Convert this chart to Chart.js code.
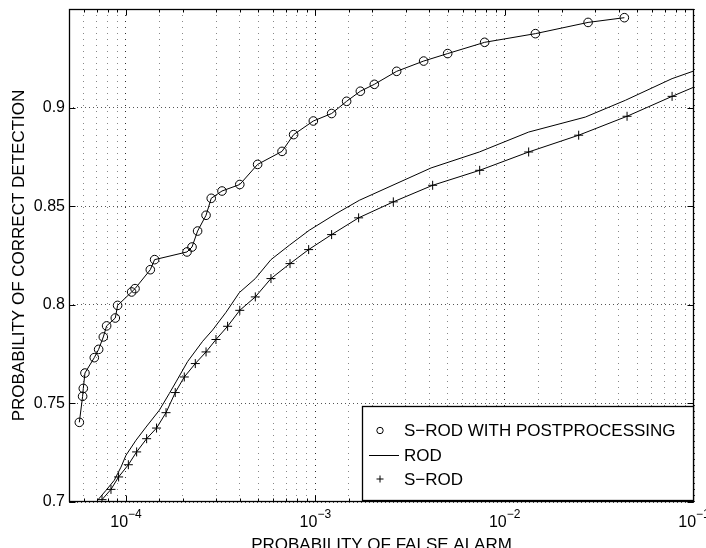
<!DOCTYPE html>
<html>
<head>
<meta charset="utf-8">
<script src="https://cdn.jsdelivr.net/npm/chart.js@4.4.1/dist/chart.umd.min.js"></script>
<style>
html, body { margin: 0; padding: 0; background: #fff; }
canvas { display: block; }
</style>
</head>
<body>
<canvas id="myChart" width="706" height="548"></canvas>
<script>
// values
var postX = [5.67e-5, 5.90e-5, 5.95e-5, 6.07e-5, 6.80e-5, 7.17e-5, 7.59e-5, 7.90e-5, 8.78e-5, 9.03e-5,
             1.071e-4, 1.116e-4, 1.344e-4, 1.416e-4, 2.10e-4, 2.232e-4, 2.389e-4, 2.647e-4, 2.82e-4, 3.214e-4,
             3.99e-4, 4.957e-4, 6.67e-4, 7.68e-4, 9.76e-4, 1.219e-3, 1.463e-3, 1.729e-3, 2.049e-3, 2.689e-3,
             3.733e-3, 5.0e-3, 7.84e-3, 1.453e-2, 2.758e-2, 4.287e-2];
var postY = [0.7404, 0.7536, 0.7576, 0.7654, 0.7732, 0.7774, 0.7837, 0.7893, 0.7933, 0.7997,
             0.8065, 0.8082, 0.8178, 0.8229, 0.8268, 0.8293, 0.8374, 0.8454, 0.854, 0.8577,
             0.861, 0.8712, 0.8778, 0.8863, 0.8932, 0.897, 0.9032, 0.9083, 0.9118, 0.9184,
             0.9236, 0.9274, 0.9331, 0.9375, 0.9432, 0.9456];

var rodX = [7.08e-5, 7.84e-5, 8.67e-5, 9.41e-5, 1.0e-4, 1.129e-4, 1.276e-4, 1.499e-4, 1.693e-4, 1.837e-4,
            2.115e-4, 2.54e-4, 2.867e-4, 3.375e-4, 3.97e-4, 4.82e-4, 5.83e-4, 7.29e-4, 9.29e-4, 1.286e-3,
            1.708e-3, 4.085e-3, 7.35e-3, 1.339e-2, 2.668e-2, 4.34e-2, 7.66e-2, 0.1];
var rodY = [0.7009, 0.7059, 0.711, 0.7177, 0.7237, 0.7313, 0.738, 0.7465, 0.755, 0.7609,
            0.7712, 0.7815, 0.7872, 0.7962, 0.8062, 0.8133, 0.8229, 0.8302, 0.8378, 0.8462,
            0.853, 0.8694, 0.8775, 0.8876, 0.8952, 0.9037, 0.9147, 0.9186];

var srodX = [7.47e-5, 8.33e-5, 9.14e-5, 1.029e-4, 1.138e-4, 1.285e-4, 1.45e-4, 1.627e-4, 1.82e-4, 2.032e-4,
             2.323e-4, 2.647e-4, 2.987e-4, 3.441e-4, 3.99e-4, 4.82e-4, 5.83e-4, 7.35e-4, 9.22e-4, 1.219e-3,
             1.693e-3, 2.582e-3, 4.165e-3, 7.38e-3, 1.339e-2, 2.46e-2, 4.43e-2, 7.66e-2, 0.1];
var srodY = [0.7012, 0.7064, 0.7127, 0.7189, 0.7254, 0.7321, 0.7375, 0.7453, 0.7555, 0.7634,
             0.7702, 0.7761, 0.7824, 0.7891, 0.7972, 0.804, 0.8133, 0.8209, 0.828, 0.8356,
             0.8441, 0.8522, 0.8606, 0.8682, 0.8775, 0.886, 0.8956, 0.9057, 0.9104];

var seriesNames = ['S\u2212ROD WITH POSTPROCESSING', 'ROD', 'S\u2212ROD'];
var yTickLabels = [0.7, 0.75, 0.8, 0.85, 0.9];
var xTickExps = [-4, -3, -2, -1];
var xTitle = 'PROBABILITY OF FALSE ALARM';
var yTitle = 'PROBABILITY OF CORRECT DETECTION';

var FONT = "'Liberation Sans', Arial, Helvetica, sans-serif";
Chart.defaults.font.family = FONT;
Chart.defaults.color = '#000';

function pairs(xs, ys) {
    return xs.map(function (x, i) { return {x: x, y: ys[i]}; });
}

// box, inward ticks, x labels with exponents and the boxed legend
var framePlugin = {
    id: 'frame',
    afterDraw: function (chart) {
        var c = chart.ctx, a = chart.chartArea;
        var xs = chart.scales.x, ys = chart.scales.y;
        var L = Math.round(a.left) + 0.5, R = Math.round(a.right) - 0.5;
        var T = Math.round(a.top) + 0.5, B = Math.round(a.bottom) - 0.5;
        c.save();
        c.strokeStyle = '#000';
        c.lineWidth = 1;
        c.beginPath();
        xs.ticks.forEach(function (t) {
            var px = Math.round(xs.getPixelForValue(t.value)) + 0.5;
            if (px <= L + 1 || px >= R - 1) return;
            var len = t.major ? 6 : 3;
            c.moveTo(px, B); c.lineTo(px, B - len);
            c.moveTo(px, T); c.lineTo(px, T + len);
        });
        ys.ticks.forEach(function (t) {
            var py = Math.round(ys.getPixelForValue(t.value)) + 0.5;
            c.moveTo(L, py); c.lineTo(L + 6, py);
            c.moveTo(R, py); c.lineTo(R - 6, py);
        });
        c.stroke();
        c.lineWidth = 1.3;
        c.strokeRect(L, T, R - L, B - T);

        // x tick labels 10^n
        c.fillStyle = '#000';
        c.textBaseline = 'alphabetic';
        c.textAlign = 'left';
        xTickExps.forEach(function (e) {
            var px = xs.getPixelForValue(Math.pow(10, e));
            var expStr = (e < 0 ? '\u2212' : '') + Math.abs(e);
            c.font = '16px ' + FONT;
            var w1 = c.measureText('10').width;
            c.font = '12px ' + FONT;
            var w2 = c.measureText(expStr).width;
            var x0 = px - (w1 + w2) / 2;
            c.font = '16px ' + FONT;
            c.fillText('10', x0, a.bottom + 25);
            c.font = '12px ' + FONT;
            c.fillText(expStr, x0 + w1, a.bottom + 15.5);
        });

        // legend
        var bw = 331, bh = 94;
        var bx = Math.round(a.right - 1 - bw) + 0.5, by = Math.round(a.bottom - 2 - bh) + 0.5;
        c.fillStyle = '#fff';
        c.fillRect(bx, by, bw, bh);
        c.lineWidth = 1.3;
        c.strokeRect(bx, by, bw, bh);
        var rows = [24, 49, 72.5];
        c.font = '17px ' + FONT;
        c.textBaseline = 'middle';
        c.fillStyle = '#000';
        c.lineWidth = 1;
        chart.data.datasets.forEach(function (ds, i) {
            var y = by + rows[i];
            var mx = bx + 17.5;
            c.beginPath();
            if (ds.pointStyle === 'circle') {
                c.arc(mx, y, 3.2, 0, Math.PI * 2);
            } else if (ds.pointStyle === 'cross') {
                c.moveTo(mx - 3.5, y); c.lineTo(mx + 3.5, y);
                c.moveTo(mx, y - 3.5); c.lineTo(mx, y + 3.5);
            } else {
                c.moveTo(bx + 6.5, y); c.lineTo(bx + 36.5, y);
            }
            c.stroke();
            c.fillText(ds.label, bx + 41.5, y + 1);
        });
        c.restore();
    }
};

var ctx = document.getElementById('myChart');

var myChart = new Chart(ctx, {
    type: 'scatter',
    data: {
        datasets: [{
            label: seriesNames[0],
            data: pairs(postX, postY),
            showLine: true,
            borderColor: '#000',
            borderWidth: 1,
            pointStyle: 'circle',
            pointRadius: 4.3,
            pointBorderWidth: 1,
            pointBorderColor: '#000',
            pointBackgroundColor: 'rgba(0,0,0,0)'
        }, {
            label: seriesNames[1],
            data: pairs(rodX, rodY),
            showLine: true,
            borderColor: '#000',
            borderWidth: 1,
            pointStyle: 'line',
            pointRadius: 0
        }, {
            label: seriesNames[2],
            data: pairs(srodX, srodY),
            showLine: true,
            borderColor: '#000',
            borderWidth: 1,
            pointStyle: 'cross',
            pointRadius: function (c) { return c.dataIndex === srodX.length - 1 ? 0 : 4.5; },
            pointBorderWidth: 1,
            pointBorderColor: '#000'
        }]
    },
    options: {
        responsive: false,
        animation: false,
        devicePixelRatio: 1,
        layout: {
            padding: {left: 0, top: 9, right: 12, bottom: 0}
        },
        plugins: {
            legend: {display: false},
            tooltip: {enabled: false}
        },
        elements: {
            line: {tension: 0}
        },
        scales: {
            x: {
                type: 'logarithmic',
                min: 5e-5,
                max: 0.1,
                ticks: {display: false, autoSkip: false},
                grid: {
                    drawTicks: false,
                    lineWidth: 1,
                    color: function (c) { return c.tick && c.tick.major ? '#333' : '#888'; }
                },
                border: {display: false, dash: [1, 5]},
                title: {
                    display: true,
                    text: xTitle,
                    font: {size: 17, lineHeight: 1},
                    padding: {top: 0, bottom: -6}
                },
                afterFit: function (s) {
                    s.height = 46;
                    s.paddingLeft = 0;
                    s.paddingRight = 0;
                }
            },
            y: {
                min: 0.7,
                max: 0.95,
                ticks: {
                    stepSize: 0.05,
                    padding: 4,
                    font: {size: 16},
                    callback: function (v) {
                        for (var i = 0; i < yTickLabels.length; i++) {
                            if (Math.abs(yTickLabels[i] - v) < 1e-6) return String(yTickLabels[i]);
                        }
                        return '';
                    }
                },
                grid: {drawTicks: false, lineWidth: 1, color: '#555'},
                border: {display: false, dash: [1, 3]},
                title: {
                    display: true,
                    text: yTitle,
                    font: {size: 17, lineHeight: 1},
                    padding: {top: 11, bottom: 0}
                },
                afterFit: function (s) {
                    s.width = 69;
                    s.paddingTop = 0;
                    s.paddingBottom = 0;
                }
            }
        }
    },
    plugins: [framePlugin]
});
</script>
</body>
</html>
